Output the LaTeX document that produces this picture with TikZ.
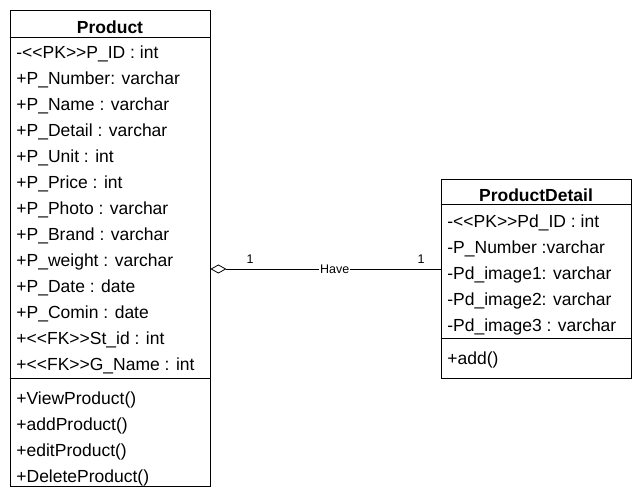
\documentclass[tikz,border=0pt]{standalone}
\usepackage{fontspec}
\setmainfont{Liberation Sans}
\usetikzlibrary{arrows.meta}
\begin{document}
\begin{tikzpicture}[x=1pt,y=-1pt,line width=0.8pt]
	% `classbox' is the outline of a class, `member' one line of text in it.
	\tikzstyle{classbox} = [draw,inner sep=0pt]
	\tikzstyle{classname} = [inner sep=0pt,font=\fontsize{17.5}{20}\selectfont\bfseries]
	\tikzstyle{member} = [anchor=west,inner sep=0pt,font=\fontsize{17.5}{20}\selectfont]
	\tikzstyle{mult} = [inner sep=1pt,font=\fontsize{12.5}{15}\selectfont]
	\useasboundingbox (0,0) rectangle (641,500);
	%
	% Product class.
	\node[classbox,minimum width=200pt,minimum height=476pt] (product) at (110,248) {};
	\node[classname] (productname) at (110,27) {Product};
	\draw (product.west |- 0,37) -- (product.east |- 0,37);
	\foreach \txt [count=\i from 0] in {%
		{-<{}<PK>{}>P\_ID : int},{+P\_Number: varchar},{+P\_Name : varchar},
		{+P\_Detail : varchar},{+P\_Unit : int},{+P\_Price : int},
		{+P\_Photo : varchar},{+P\_Brand : varchar},{+P\_weight : varchar},
		{+P\_Date : date},{+P\_Comin : date},{+<{}<FK>{}>St\_id : int},
		{+<{}<FK>{}>G\_Name : int}}
		\node[member] (pattr\i) at (16,54+26*\i) {\txt};
	\draw (product.west |- 0,378) -- (product.east |- 0,378);
	\foreach \txt [count=\i from 0] in {+ViewProduct(),+addProduct(),+editProduct(),+DeleteProduct()}
		\node[member] (pop\i) at (16,400+26*\i) {\txt};
	%
	% ProductDetail class.
	\node[classbox,minimum width=190pt,minimum height=199pt] (detail) at (536,278.5) {};
	\node[classname] (detailname) at (536,195) {ProductDetail};
	\draw (detail.west |- 0,204) -- (detail.east |- 0,204);
	\foreach \txt [count=\i from 0] in {%
		{-<{}<PK>{}>Pd\_ID : int},{-P\_Number :varchar},{-Pd\_image1: varchar},
		{-Pd\_image2: varchar},{-Pd\_image3 : varchar}}
		\node[member] (dattr\i) at (447,223+26*\i) {\txt};
	\draw (detail.west |- 0,338) -- (detail.east |- 0,338);
	\node[member] (dop0) at (447,360) {+add()};
	%
	% Aggregation.
	\coordinate (have) at (336,269);
	\draw[{Diamond[open,length=16pt,width=9pt]}-] (product.east |- have) -- (detail.west |- have)
		node[pos=0.54,fill=white,mult] (havelabel) {Have};
	\node[mult] (m1) at (250,259) {1};
	\node[mult] (m2) at (421,259) {1};
\end{tikzpicture}
\end{document}
